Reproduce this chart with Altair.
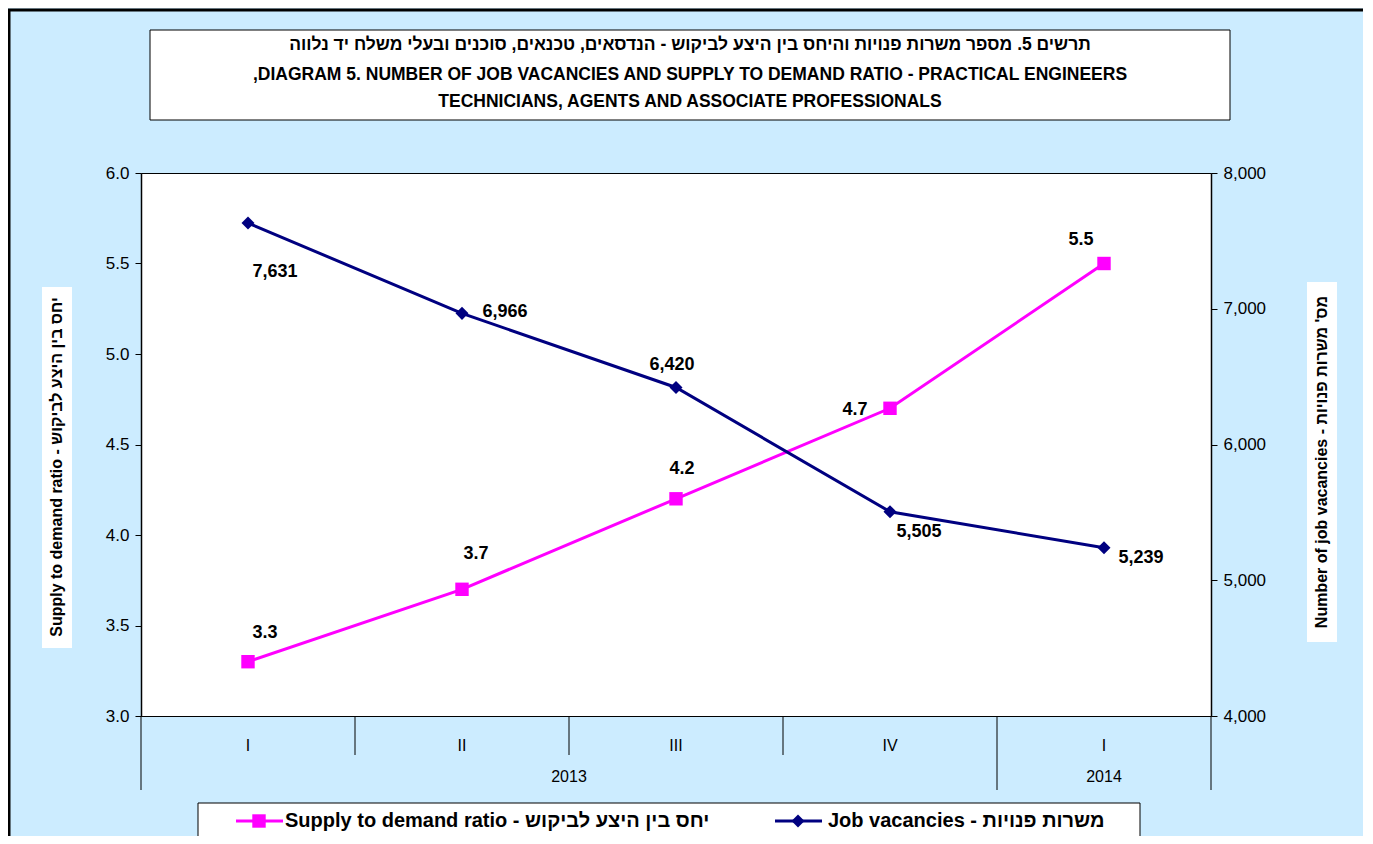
import altair as alt
import pandas as pd

# ---------------- data ----------------
quarters = ["I", "II", "III", "IV", "I"]
years = ["2013", "2013", "2013", "2013", "2014"]
supply_ratio = [3.3, 3.7, 4.2, 4.7, 5.5]
job_vacancies = [7631, 6966, 6420, 5505, 5239]

ratio_ticks = [3.0, 3.5, 4.0, 4.5, 5.0, 5.5, 6.0]
jobs_ticks = [4000, 5000, 6000, 7000, 8000]

title_lines = [
    "תרשים 5. מספר משרות פנויות והיחס בין היצע לביקוש - הנדסאים, טכנאים, סוכנים ובעלי משלח יד נלווה",
    ",DIAGRAM 5. NUMBER OF JOB VACANCIES AND SUPPLY TO DEMAND RATIO -  PRACTICAL ENGINEERS",
    "TECHNICIANS, AGENTS AND ASSOCIATE PROFESSIONALS",
]
left_title = "Supply to demand ratio - יחס בין היצע לביקוש"
right_title = "Number of job vacancies - מס' משרות פנויות"
legend_supply = "Supply to demand ratio - יחס בין היצע לביקוש"
legend_jobs = "Job vacancies - משרות פנויות"

# ---------------- tables ----------------
n = len(quarters)
df = pd.DataFrame({
    "idx": list(range(n)),
    "pos": [i + 0.5 for i in range(n)],
    "quarter": quarters,
    "year": years,
    "ratio": supply_ratio,
    "jobs": job_vacancies,
})
df["ratio_lbl"] = [f"{v:.1f}" for v in supply_ratio]
df["jobs_lbl"] = [f"{v:,}" for v in job_vacancies]

year_rows = []
for y in dict.fromkeys(years):
    ids = [i for i, yy in enumerate(years) if yy == y]
    year_rows.append({"year": y, "pos": (ids[0] + ids[-1] + 1) / 2})
year_df = pd.DataFrame(year_rows)

sep_rows = []
for b in range(n + 1):
    long_ = b == 0 or b == n or years[b] != years[b - 1]
    sep_rows.append({"b": b, "long": long_})
sep_df = pd.DataFrame(sep_rows)

# ---------------- layout ----------------
W, H = 1070, 543
PAD = {"left": 133, "top": 165, "right": 152, "bottom": 120}
FONT = "Liberation Sans"
MAGENTA = "#FF00FF"
NAVY = "#000080"
BG = "#CCECFF"

xscale = alt.Scale(domain=[0, n], nice=False, zero=False)
X = alt.X("pos:Q", scale=xscale, axis=None)
rscale = alt.Scale(domain=[3, 6], nice=False, zero=False)
jscale = alt.Scale(domain=[4000, 8000], nice=False, zero=False)
r_axis = alt.Axis(values=ratio_ticks, title=None, tickSize=6, labelPadding=6,
                  labelExpr="format(datum.value, '.1f')")
j_axis = alt.Axis(orient="right", values=jobs_ticks, title=None, tickSize=6,
                  labelPadding=6, labelExpr="format(datum.value, ',')")
YR = alt.Y("ratio:Q", scale=rscale, axis=r_axis)
YJ = alt.Y("jobs:Q", scale=jscale, axis=j_axis)

one = alt.Data(values=[{}])

# supply series
s_line = alt.Chart(df).mark_line(color=MAGENTA, strokeWidth=3).encode(x=X, y=YR)
s_pts = alt.Chart(df).mark_point(shape="square", filled=True, opacity=1,
                                 color=MAGENTA, size=180).encode(x=X, y=YR)
s_offsets = [(17, -29), (14, -35), (6, -30), (-35, 2), (-23, -24)]
s_labels = [
    alt.Chart(df).transform_filter(alt.datum.idx == i).mark_text(
        font=FONT, fontSize=18, fontWeight="bold", color="black",
        dx=dx, dy=dy, align="center", baseline="middle").encode(
        x=X, y=YR, text="ratio_lbl:N")
    for i, (dx, dy) in enumerate(s_offsets)
]
supply = alt.layer(s_line, s_pts, *s_labels)

# vacancies series
j_line = alt.Chart(df).mark_line(color=NAVY, strokeWidth=3).encode(x=X, y=YJ)
j_pts = alt.Chart(df).mark_point(shape="diamond", filled=True, opacity=1,
                                 color=NAVY, size=170).encode(x=X, y=YJ)
j_offsets = [(27, 49), (43, -1), (-4, -22), (29, 20), (37, 10)]
j_labels = [
    alt.Chart(df).transform_filter(alt.datum.idx == i).mark_text(
        font=FONT, fontSize=18, fontWeight="bold", color="black",
        dx=dx, dy=dy, align="center", baseline="middle").encode(
        x=X, y=YJ, text="jobs_lbl:N")
    for i, (dx, dy) in enumerate(j_offsets)
]
jobs = alt.layer(j_line, j_pts, *j_labels)

# x-axis category labels and separators
sep_short = alt.Chart(sep_df).transform_filter(~alt.datum.long).mark_rule(
    color="black", strokeWidth=1).encode(
    x=alt.X("b:Q", scale=xscale, axis=None), y=alt.value(H), y2=alt.value(H + 39))
sep_long = alt.Chart(sep_df).transform_filter(alt.datum.long).mark_rule(
    color="black", strokeWidth=1).encode(
    x=alt.X("b:Q", scale=xscale, axis=None), y=alt.value(H), y2=alt.value(H + 74))
q_text = alt.Chart(df).mark_text(font=FONT, fontSize=16, color="black",
                                 baseline="middle").encode(
    x=X, y=alt.value(H + 30), text="quarter:N")
y_text = alt.Chart(year_df).mark_text(font=FONT, fontSize=16, color="black",
                                      baseline="middle").encode(
    x=alt.X("pos:Q", scale=xscale, axis=None), y=alt.value(H + 61), text="year:N")

# frame border (top / left)
border_top = alt.Chart(one).mark_rule(color="black", strokeWidth=3).encode(
    x=alt.value(-PAD["left"]), x2=alt.value(W + PAD["right"]), y=alt.value(-163))
border_left = alt.Chart(one).mark_rule(color="black", strokeWidth=3).encode(
    x=alt.value(-132), y=alt.value(-163), y2=alt.value(H + PAD["bottom"]))

# title box
title_box = alt.Chart(one).mark_rect(fill="white", stroke="black", strokeWidth=1).encode(
    x=alt.value(9), x2=alt.value(1089), y=alt.value(-143), y2=alt.value(-53))
title_marks = [
    alt.Chart(one).mark_text(font=FONT, fontSize=17.5, fontWeight="bold", color="black",
                             align="center", baseline="middle", text=t).encode(
        x=alt.value(549), y=alt.value(yy))
    for t, yy in zip(title_lines, [-128, -98, -71])
]

# axis titles with white boxes
lt_box = alt.Chart(one).mark_rect(fill="white").encode(
    x=alt.value(-99), x2=alt.value(-69), y=alt.value(114), y2=alt.value(475))
lt_text = alt.Chart(one).mark_text(font=FONT, fontSize=16, fontWeight="bold",
                                   color="black", angle=270, align="center",
                                   baseline="middle", text=left_title).encode(
    x=alt.value(-84), y=alt.value(294))
rt_box = alt.Chart(one).mark_rect(fill="white").encode(
    x=alt.value(1166), x2=alt.value(1196), y=alt.value(109), y2=alt.value(469))
rt_text = alt.Chart(one).mark_text(font=FONT, fontSize=16, fontWeight="bold",
                                   color="black", angle=270, align="center",
                                   baseline="middle", text=right_title).encode(
    x=alt.value(1181), y=alt.value(289))

# legend
LY = 648
leg_box = alt.Chart(one).mark_rect(fill="white", stroke="black", strokeWidth=1).encode(
    x=alt.value(57), x2=alt.value(999), y=alt.value(630), y2=alt.value(664))
leg_s_line = alt.Chart(one).mark_rule(color=MAGENTA, strokeWidth=3).encode(
    x=alt.value(95), x2=alt.value(142), y=alt.value(LY))
leg_s_pt = alt.Chart(one).mark_point(shape="square", filled=True, opacity=1,
                                     color=MAGENTA, size=180).encode(
    x=alt.value(118), y=alt.value(LY))
leg_s_txt = alt.Chart(one).mark_text(font=FONT, fontSize=20, fontWeight="bold",
                                     color="black", align="left", baseline="middle",
                                     text=legend_supply).encode(
    x=alt.value(144), y=alt.value(LY))
leg_j_line = alt.Chart(one).mark_rule(color=NAVY, strokeWidth=3).encode(
    x=alt.value(634), x2=alt.value(681), y=alt.value(LY))
leg_j_pt = alt.Chart(one).mark_point(shape="diamond", filled=True, opacity=1,
                                     color=NAVY, size=170).encode(
    x=alt.value(657), y=alt.value(LY))
leg_j_txt = alt.Chart(one).mark_text(font=FONT, fontSize=20, fontWeight="bold",
                                     color="black", align="left", baseline="middle",
                                     text=legend_jobs).encode(
    x=alt.value(687), y=alt.value(LY))

chart = alt.layer(
    border_top, border_left, title_box, *title_marks,
    lt_box, lt_text, rt_box, rt_text,
    sep_short, sep_long, q_text, y_text,
    supply, jobs,
    leg_box, leg_s_line, leg_s_pt, leg_s_txt, leg_j_line, leg_j_pt, leg_j_txt,
).resolve_scale(y="independent").properties(
    width=W, height=H,
    autosize=alt.AutoSizeParams(type="none"),
    padding=PAD,
).configure(
    background=BG,
).configure_view(
    fill="white", stroke="black", strokeWidth=1,
).configure_axis(
    labelFont=FONT, labelFontSize=17, labelColor="black",
    domainColor="black", domainWidth=1.5, tickColor="black", tickWidth=1,
    grid=False,
)

chart.save("out.html", embed_options={"renderer": "svg", "actions": False})
